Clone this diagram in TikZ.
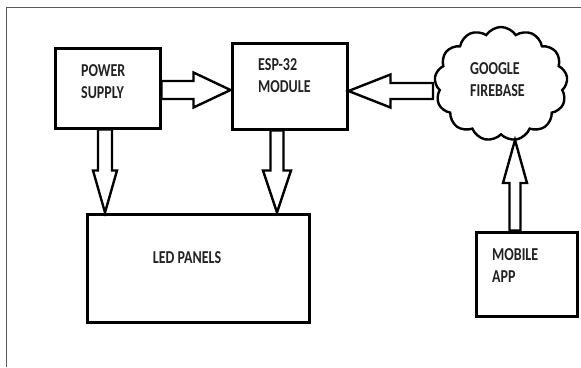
\documentclass[tikz,border=0pt]{standalone}
\usepackage{fontspec}
\setmainfont{Carlito}
\usetikzlibrary{calc,shapes.symbols}
\definecolor{txt}{HTML}{222222}
\newcommand\lbl[1]{\scalebox{1}[1.3]{\begin{tabular}{@{}l@{}}#1\end{tabular}}}
\newcommand\blockarrow[6]{% name, from, to, half shaft, half head, head length
  \coordinate (#1b) at ($(#3)!#6!(#2)$);
  \draw[barrow] ($(#2)!#4!90:(#3)$) -- ($(#1b)!#4!90:(#3)$) -- ($(#1b)!#5!90:(#3)$)
    -- (#3) -- ($(#1b)!#5!-90:(#3)$) -- ($(#1b)!#4!-90:(#3)$) -- ($(#2)!#4!-90:(#3)$) -- cycle;
}
\begin{document}
\begin{tikzpicture}[x=1pt,y=-1pt,
  box/.style={draw=black,line width=3pt,fill=white,rectangle,inner sep=0pt},
  barrow/.style={draw=black,line width=2.4pt,fill=white,line join=miter},
  txtn/.style={text=txt,font=\bfseries\fontsize{14}{17}\selectfont,inner sep=0pt},
  frame/.style={draw=black!65,line width=1pt}]
\useasboundingbox (0,0) rectangle (581,367);
\fill[white] (0,0) rectangle (581,367);
\coordinate (fr0) at (6,367);
\coordinate (fr1) at (6,7);
\coordinate (fr2) at (581,7);
\draw[frame] (fr0) -- (fr1) -- (fr2);
% boxes
\node[box,minimum width=105pt,minimum height=80pt] (ps) at (107.5,88) {};
\node[box,minimum width=115pt,minimum height=86pt] (esp) at (289.5,86) {};
\node[box,minimum width=222pt,minimum height=108pt] (led) at (198,268) {};
\node[box,minimum width=101pt,minimum height=84pt] (mob) at (526.5,274) {};
\node[cloud,draw=black,line width=2.4pt,fill=white,cloud puffs=13,cloud puff arc=115,
      aspect=1.15,minimum width=133pt,minimum height=114pt,inner sep=0pt] (fb) at (501,84) {};
% texts
\node[txtn,anchor=west] (pst) at (81,83) {\lbl{POWER\\SUPPLY}};
\node[txtn,anchor=west] (espt) at (258,77) {\lbl{ESP-32\\MODULE}};
\node[txtn] (ledt) at (187,259) {\lbl{LED PANELS}};
\node[txtn,anchor=west] (fbt) at (470,81) {\lbl{GOOGLE\\FIREBASE}};
\node[txtn,anchor=west] (mobt) at (492,267) {\lbl{MOBILE\\APP}};
% arrow end points
\coordinate (a1s) at ($(ps.east)+(0,2)$);
\coordinate (a1t) at (esp.west |- a1s);
\coordinate (a2s) at ($(fb.center)+(-68,7)$);
\coordinate (a2t) at (esp.east |- a2s);
\coordinate (a3s) at (ps.south -| 105,0);
\coordinate (a3t) at (led.north -| a3s);
\coordinate (a4s) at (esp.south -| 277,0);
\coordinate (a4t) at (led.north -| a4s);
\coordinate (a5s) at (mob.north -| 515,0);
\coordinate (a5t) at ($(fb.center)+(14,56)$);
\blockarrow{a1}{a1s}{a1t}{9pt}{17.5pt}{37pt}
\blockarrow{a2}{a2s}{a2t}{8pt}{16.5pt}{42pt}
\blockarrow{a3}{a3s}{a3t}{7pt}{12pt}{42pt}
\blockarrow{a4}{a4s}{a4t}{6.5pt}{14pt}{42pt}
\blockarrow{a5}{a5s}{a5t}{5.5pt}{12pt}{43pt}
\end{tikzpicture}
\end{document}
